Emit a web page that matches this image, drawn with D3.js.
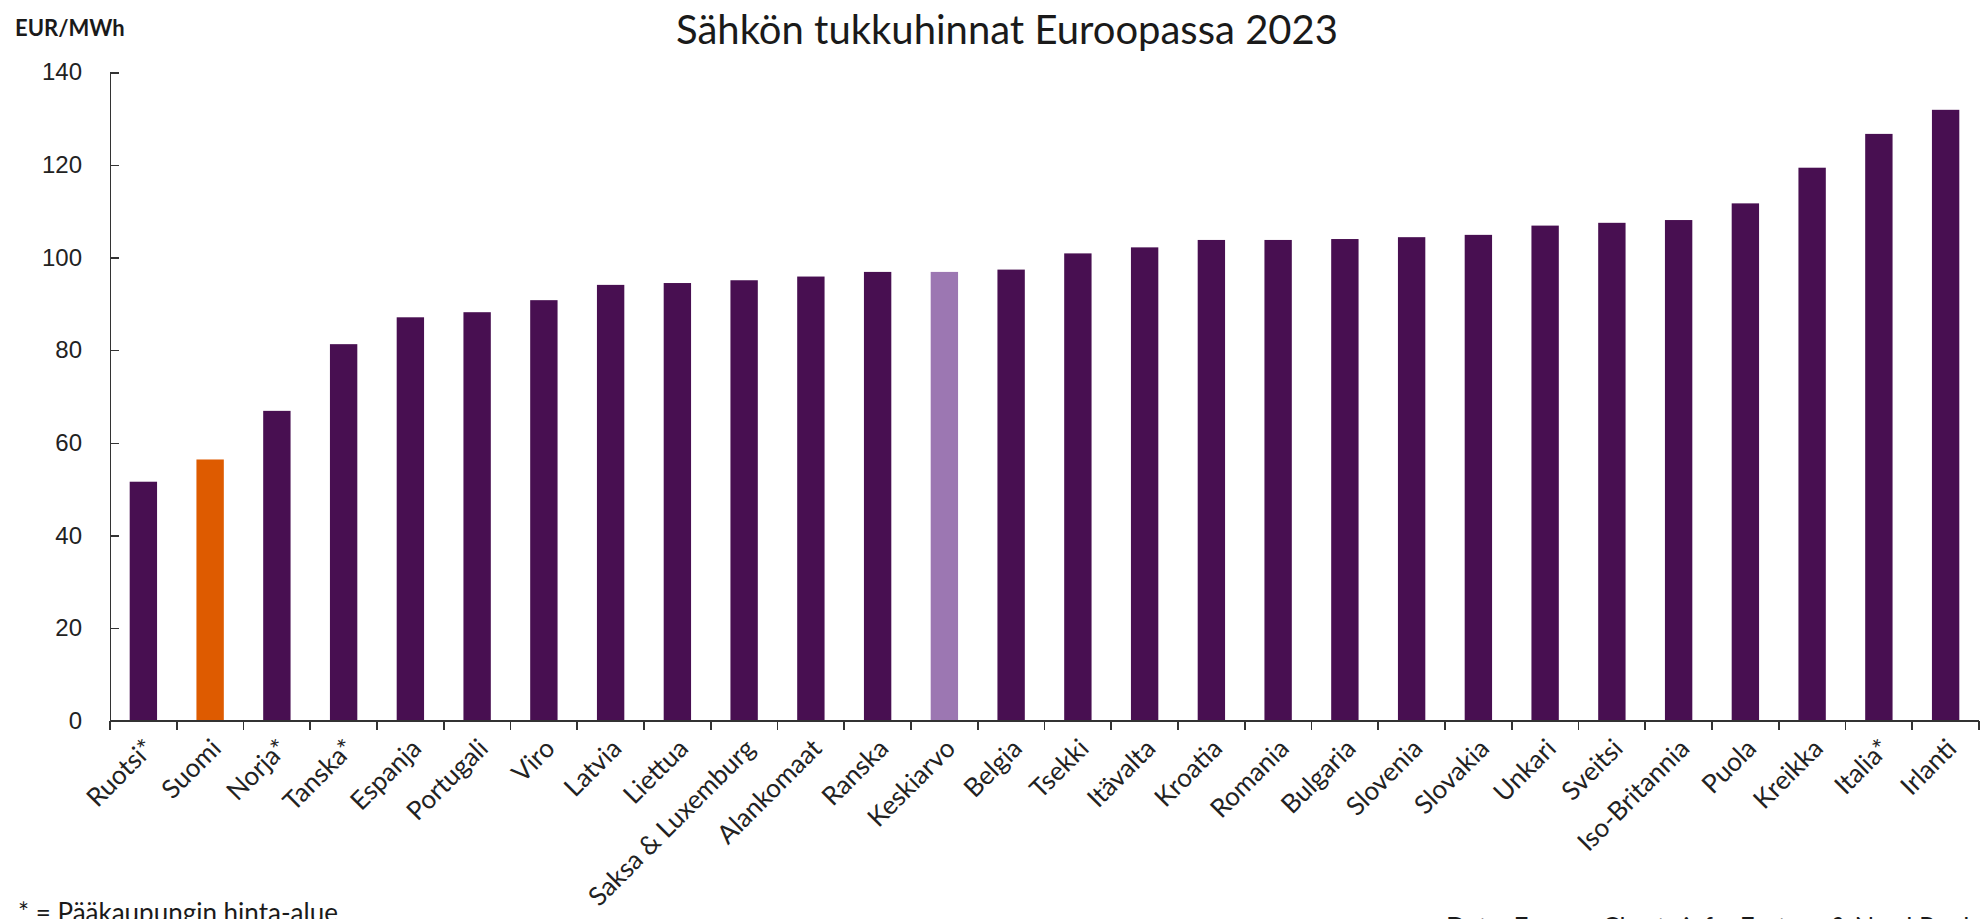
<!DOCTYPE html>
<html>
<head>
<meta charset="utf-8">
<style>
  body { margin: 0; background: #fff; }
  svg { display: block; font-family: Lato, "Open Sans", sans-serif; }
  .axis path, .axis line { stroke: #333; stroke-width: 1.6; shape-rendering: crispEdges; }
  .axis text { fill: #222; }
</style>
</head>
<body>
<svg width="1980" height="919"></svg>
<script src="https://d3js.org/d3.v7.min.js"></script>
<script>
// maat (tähti = pääkaupungin hinta-alue)
var countries = ["Ruotsi*", "Suomi", "Norja*", "Tanska*", "Espanja", "Portugali", "Viro",
  "Latvia", "Liettua", "Saksa & Luxemburg", "Alankomaat", "Ranska", "Keskiarvo", "Belgia",
  "Tsekki", "Itävalta", "Kroatia", "Romania", "Bulgaria", "Slovenia", "Slovakia", "Unkari",
  "Sveitsi", "Iso-Britannia", "Puola", "Kreikka", "Italia*", "Irlanti"];
var prices = [51.6, 56.4, 66.9, 81.3, 87.1, 88.2, 90.8, 94.1, 94.5, 95.1, 95.9, 96.9, 96.9, 97.4,
  100.9, 102.2, 103.8, 103.8, 104.0, 104.4, 104.9, 106.9, 107.5, 108.1, 111.7, 119.4, 126.7, 131.9];
var yTicks = [0, 20, 40, 60, 80, 100, 120, 140];

var title = "Sähkön tukkuhinnat Euroopassa 2023";
var unitLabel = "EUR/MWh";
var footnote = "* = Pääkaupungin hinta-alue";
var source = "Data: Energy-Charts.info, Fortum & Nord Pool";

var plotLeft = 110, plotRight = 1979, plotTop = 72.3, plotBottom = 720.7;

var svg = d3.select("svg");

var x = d3.scaleBand().domain(countries).range([plotLeft, plotRight]).paddingInner(0.59).paddingOuter(0.295);
var y = d3.scaleLinear().domain([0, 140]).range([plotBottom, plotTop]);

function barColor(name) {
  if (name == "Suomi") return "#de5b00";
  if (name == "Keskiarvo") return "#9c77b2";
  return "#480f51";
}

// bars
svg.selectAll("rect.bar")
  .data(countries)
  .enter().append("rect")
  .attr("class", "bar")
  .attr("x", function(d) { return x(d); })
  .attr("width", x.bandwidth())
  .attr("y", function(d, i) { return y(prices[i]); })
  .attr("height", function(d, i) { return plotBottom - y(prices[i]); })
  .attr("fill", barColor);

// y axis, ticks inward
var yAxis = svg.append("g")
  .attr("class", "axis")
  .attr("transform", "translate(" + plotLeft + ",0)")
  .call(d3.axisRight(y).tickValues(yTicks).tickSize(9).tickSizeOuter(0));
yAxis.selectAll("text")
  .attr("x", -28)
  .attr("text-anchor", "end")
  .style("font-size", "24px");

// x axis: ticks between categories
var step = x.step();
var xTickPos = d3.range(countries.length + 1).map(function(i) { return plotLeft + i * step; });
var xAxis = svg.append("g").attr("class", "axis");
xAxis.append("line")
  .attr("x1", plotLeft).attr("x2", plotRight)
  .attr("y1", plotBottom).attr("y2", plotBottom);
xAxis.selectAll("line.tick")
  .data(xTickPos)
  .enter().append("line")
  .attr("x1", function(d) { return d; }).attr("x2", function(d) { return d; })
  .attr("y1", plotBottom).attr("y2", plotBottom + 9);

xAxis.selectAll("text")
  .data(countries)
  .enter().append("text")
  .attr("transform", function(d) {
    return "translate(" + (x(d) + x.bandwidth() / 2 + 6) + "," + (plotBottom + 23) + ") rotate(-45)";
  })
  .attr("text-anchor", "end")
  .attr("dy", "0.35em")
  .style("font-size", "26px")
  .text(function(d) { return d; });

// texts
svg.append("text")
  .attr("x", 1007).attr("y", 44)
  .attr("text-anchor", "middle")
  .style("font-size", "40px")
  .attr("fill", "#1a1a1a")
  .text(title);

svg.append("text")
  .attr("x", 15).attr("y", 36)
  .style("font-size", "22px")
  .style("font-weight", "bold")
  .attr("fill", "#1a1a1a")
  .text(unitLabel);

svg.append("text")
  .attr("x", 18).attr("y", 922)
  .style("font-size", "26px")
  .attr("fill", "#1a1a1a")
  .text(footnote);

svg.append("text")
  .attr("x", 1446).attr("y", 937)
  .style("font-size", "26px")
  .attr("fill", "#1a1a1a")
  .text(source);
</script>
</body>
</html>
